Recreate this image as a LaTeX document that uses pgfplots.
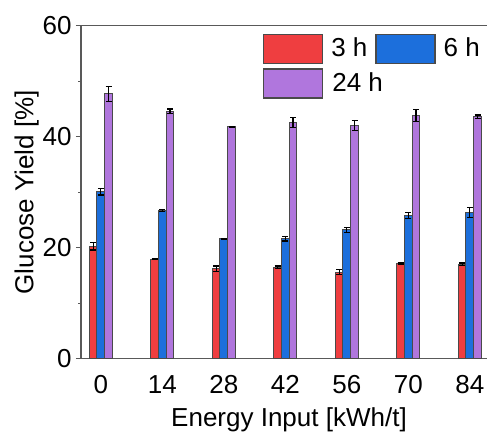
\documentclass[border=0pt]{standalone}
\usepackage{fontspec}
\setmainfont{Liberation Sans}
\usepackage{pgfplots}
\pgfplotsset{compat=1.18}
\definecolor{cred}{HTML}{EF3E40}
\definecolor{cblue}{HTML}{1C6FDC}
\definecolor{cpurple}{HTML}{B076DD}
\definecolor{edge}{HTML}{4A4A4A}
\newcommand{\fs}{\fontsize{13}{15.6}\selectfont}

\pgfplotstableread{
x  y3   e3    y6   e6   y24   e24
0  20.3 0.7   30.1 0.6  47.7  1.3
1  17.9 0.05  26.7 0.2  44.6  0.4
2  16.2 0.5   21.6 0.1  41.75 0.1
3  16.5 0.2   21.6 0.4  42.5  0.9
4  15.6 0.5   23.2 0.5  42.05 0.9
5  17.1 0.15  25.8 0.6  43.8  1.1
6  17.0 0.25  26.4 0.9  43.6  0.3
}\yields

\begin{document}
\begin{tikzpicture}
\begin{axis}[
  scale only axis,
  width=208pt,height=166.5pt,
  xmin=-0.322,xmax=6.442,ymin=0,ymax=60,
  separate axis lines,
  axis x line*=box,axis y line*=left,
  axis line style={draw=black!65,line width=0.65pt},
  xtick={0,...,6},xticklabels={0,14,28,42,56,70,84},
  xtick style={draw=none},
  ytick={0,20,40,60},minor ytick={10,30,50},
  tick align=outside,
  major tick length=2.5pt,minor tick length=1.25pt,
  ytick style={draw=black!65,line width=0.6pt},
  minor tick style={draw=black!65,line width=0.6pt},
  tick label style={font=\fs},
  /pgf/number format/assume math mode=true,
  yticklabel style={inner sep=2pt},
  xticklabel style={yshift=-2.2pt},
  every axis x label/.style={at={([yshift=-34pt]axis description cs:0.5,0)},anchor=base,font=\fs},
  every axis y label/.style={at={([xshift=-23.8pt]axis description cs:0,0.5)},rotate=90,anchor=base,font=\fs},
  xlabel={Energy Input [kWh/t]},
  ylabel={Glucose Yield [\%]},
  ybar,bar width=3.85pt,
  legend columns=2,
  legend cell align=left,
  legend style={at={(0.4368,0.977)},anchor=north west,draw=none,fill=none,
    inner sep=0pt,column sep=4pt,row sep=2.25pt,font=\fs,
    nodes={inner sep=0pt}},
  legend image code/.code={\draw[#1,line width=0.6pt] (0pt,-7.25pt) rectangle (29.5pt,7.25pt);},
  error bars/error bar style={black,line width=0.6pt},
  error bars/error mark options={rotate=90,mark size=1.5pt,black,line width=0.6pt},
]
\addplot[fill=cred,draw=edge,line width=0.5pt,bar shift=-3.85pt,
  error bars/.cd,y dir=both,y explicit]
  table[x=x,y=y3,y error=e3]{\yields};
\addlegendentry{3 h}
\addplot[fill=cblue,draw=edge,line width=0.5pt,bar shift=0pt,
  error bars/.cd,y dir=both,y explicit]
  table[x=x,y=y6,y error=e6]{\yields};
\addlegendentry{6 h}
\addplot[fill=cpurple,draw=edge,line width=0.5pt,bar shift=3.85pt,
  error bars/.cd,y dir=both,y explicit]
  table[x=x,y=y24,y error=e24]{\yields};
\addlegendentry{\rlap{24 h}}
\end{axis}
\pgfresetboundingbox
\path (current axis.south west) ++(-40.5pt,-37.15pt) rectangle ++(243.5pt,216.5pt);
\end{tikzpicture}
\end{document}
